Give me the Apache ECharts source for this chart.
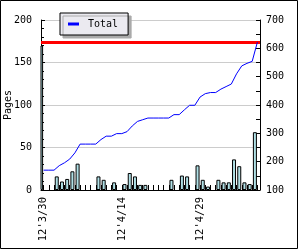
<!DOCTYPE html>
<html><head><meta charset="utf-8">
<script src="https://cdn.jsdelivr.net/npm/echarts@6/dist/echarts.min.js"></script>
<style>html,body{margin:0;padding:0;background:#fff}#c{width:300px;height:250px}</style>
</head><body><div id="c"></div>
<script>
const yearPrefix = "12'";
const dates = ['3/30','3/31','4/1','4/2','4/3','4/4','4/5','4/6','4/7','4/8','4/9','4/10','4/11','4/12','4/13','4/14','4/15','4/16','4/17','4/18','4/19','4/20','4/21','4/22','4/23','4/24','4/25','4/26','4/27','4/28','4/29','4/30','5/1','5/2','5/3','5/4','5/5','5/6','5/7','5/8','5/9','5/10'];
const pages = [170,0,0,16,10,13,22,31,0,0,0,16,12,0,9,0,7,20,16,6,6,0,0,0,0,12,0,17,16,0,29,12,4,0,12,9,9,36,28,9,7,68];
const total = [170,170,170,186,196,209,231,262,262,262,262,278,290,290,299,299,306,326,342,348,354,354,354,354,354,366,366,383,399,399,428,440,444,444,456,465,474,510,538,547,554,622];
const legendName = 'Total';
const pagesName = 'Pages';

const font = 'DejaVu Sans Mono';
const chart = echarts.init(document.getElementById('c'));
chart.setOption({
  animation: false,
  backgroundColor: '#fff',
  graphic: [{type:'rect', silent:true, z:-1, shape:{x:0.5,y:0.5,width:297,height:248}, style:{fill:'none',stroke:'#000',lineWidth:1}}],
  grid: {left:41, right:40, top:20, bottom:60, outerBoundsMode:'none', containLabel:false},
  legend: {
    data:[legendName], left:60, top:13, padding:[6,10,6,8],
    backgroundColor:'#ebeaf0', borderColor:'#000', borderWidth:1,
    shadowColor:'#aaaaaa', shadowOffsetX:3, shadowOffsetY:3, shadowBlur:0,
    icon:'rect', itemWidth:11, itemHeight:3,
    textStyle:{fontFamily:font, fontSize:10, color:'#000', padding:[0,0,0,4]}
  },
  xAxis: {
    type:'category', data:dates, boundaryGap:true, z:10,
    axisLine:{lineStyle:{color:'#000', width:1}},
    axisTick:{show:true, alignWithLabel:true, interval:0, inside:true, length:5, lineStyle:{color:'#000', width:1}},
    axisLabel:{rotate:90, interval:14, margin:7, formatter:v=>yearPrefix+v, fontFamily:font, fontSize:10.5, color:'#000'},
    splitLine:{show:false}
  },
  yAxis: [{
    type:'value', min:0, max:200, interval:50, position:'left',
    name:pagesName, nameLocation:'middle', nameGap:28, nameMoveOverlap:false,
    nameTextStyle:{fontFamily:font, fontSize:10, color:'#000'},
    axisLine:{show:true, lineStyle:{color:'#000'}},
    axisTick:{show:true, inside:true, length:4, lineStyle:{color:'#000'}},
    minorTick:{show:true, splitNumber:5, length:3, lineStyle:{color:'#000'}},
    splitLine:{show:true, lineStyle:{color:'#cccccc', width:1}},
    axisLabel:{fontFamily:font, fontSize:10, color:'#000', margin:9}
  },{
    type:'value', min:100, max:700, interval:100, position:'right',
    axisLine:{show:true, lineStyle:{color:'#000'}},
    axisTick:{show:true, inside:true, length:4, lineStyle:{color:'#000'}},
    minorTick:{show:true, splitNumber:2, length:4, lineStyle:{color:'#000'}},
    splitLine:{show:false},
    axisLabel:{fontFamily:font, fontSize:10, color:'#000', margin:6}
  }],
  series: [{
    name:pagesName, type:'bar', yAxisIndex:0, barWidth:4, barGap:'25%',
    data: pages.map(v => v === 0 ? '-' : v),
    itemStyle:{color:'#b0e0e6', borderColor:'#000', borderWidth:1}
  },{
    name:'pad', type:'bar', yAxisIndex:0, barWidth:4,
    data: pages.map(() => '-')
  },{
    name:legendName, type:'line', yAxisIndex:1, data:total,
    showSymbol:false, symbol:'none', color:'#0000ff',
    lineStyle:{color:'#0000ff', width:1}, z:5,
    markLine:{silent:true, symbol:'none', label:{show:false},
      lineStyle:{color:'#ff0000', width:3, type:'solid'},
      data:[{type:'max'}]}
  }]
});
</script></body></html>
